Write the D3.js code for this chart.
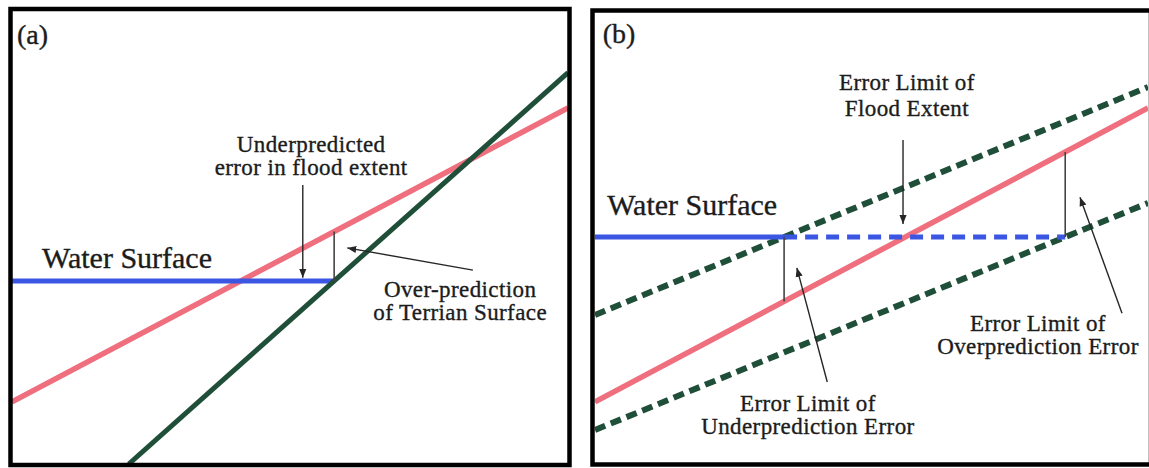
<!DOCTYPE html>
<html>
<head>
<meta charset="utf-8">
<script src="https://cdn.jsdelivr.net/npm/d3@7"></script>
<style>
  html, body { margin: 0; padding: 0; background: #fff; }
  svg { display: block; }
  text { font-family: "Liberation Serif", "Times New Roman", serif; fill: #1c1c1c; stroke: #1c1c1c; stroke-width: 0.35px; }
</style>
</head>
<body>
<svg id="fig" width="1149" height="468"></svg>
<script>
// Profile lines in normalised units (x: 0-100 across the panel, y: 0-100 bottom to top)
const terrainSurface = [[0, 13.7], [100, 78.6]];          // true terrain (both panels)
const demSurfaceA = [[21.0, 0], [100, 86.4]];             // over-predicted terrain, panel (a)
const errorLimitUpper = [[0, 32.9], [100, 83.2]];         // panel (b) upper error limit
const errorLimitLower = [[0, 7.5], [100, 57.6]];          // panel (b) lower error limit
const waterLevelA = 40.4;
const waterLevelB = 50.1;

const panelLabels = ["(a)", "(b)"];
const waterLabel = "Water Surface";
const annotationA = [
  ["Underpredicted", "error in flood extent"],
  ["Over-prediction", "of Terrian Surface"]
];
const annotationB = [
  ["Error Limit of", "Flood Extent"],
  ["Error Limit of", "Underprediction Error"],
  ["Error Limit of", "Overprediction Error"]
];

const colors = { terrain: "#ef6f7e", dem: "#1f4e39", water: "#3a56e2", ink: "#262626" };

const svg = d3.select("#fig");

// arrowhead marker
svg.append("defs").append("marker")
  .attr("id", "head").attr("viewBox", "0 0 10 10")
  .attr("refX", 10).attr("refY", 5)
  .attr("markerWidth", 9).attr("markerHeight", 9)
  .attr("markerUnits", "userSpaceOnUse")
  .attr("orient", "auto")
  .append("path").attr("d", "M0,1 L10,5 L0,9 Z").attr("fill", colors.ink);

function xAt(line, y) {
  const [[x0, y0], [x1, y1]] = line;
  return x0 + (y - y0) * (x1 - x0) / (y1 - y0);
}
function yAt(line, x) {
  const [[x0, y0], [x1, y1]] = line;
  return y0 + (x - x0) * (y1 - y0) / (x1 - x0);
}

function makePanel(id, range) {
  const x = d3.scaleLinear().domain([0, 100]).range(range.x);
  const y = d3.scaleLinear().domain([0, 100]).range(range.y);
  svg.select("defs").append("clipPath").attr("id", "clip-" + id)
    .append("rect")
    .attr("x", range.x[0]).attr("y", range.y[1])
    .attr("width", range.x[1] - range.x[0]).attr("height", range.y[0] - range.y[1]);
  const g = svg.append("g");
  const plot = g.append("g").attr("clip-path", `url(#clip-${id})`);
  const path = d3.line().x(d => x(d[0])).y(d => y(d[1]));
  return { x, y, g, plot, path };
}

function textBlock(g, lines, cx, firstBaseline, gap, size) {
  lines.forEach((t, i) => {
    g.append("text")
      .attr("x", cx).attr("y", firstBaseline + i * gap)
      .attr("text-anchor", "middle")
      .attr("font-size", size)
      .attr("letter-spacing", 0.4)
      .text(t);
  });
}

function arrow(g, x1, y1, x2, y2) {
  g.append("line")
    .attr("x1", x1).attr("y1", y1).attr("x2", x2).attr("y2", y2)
    .attr("stroke", colors.ink).attr("stroke-width", 1.4)
    .attr("marker-end", "url(#head)");
}

function tick(g, x1, y1, x2, y2) {
  g.append("line")
    .attr("x1", x1).attr("y1", y1).attr("x2", x2).attr("y2", y2)
    .attr("stroke", "#444").attr("stroke-width", 1.6);
}

const noteSize = 23;
const noteGap = 23;

/* ---------- Panel (a) ---------- */
{
  const p = makePanel("a", { x: [12, 568], y: [464, 11] });
  const { x, y, g, plot, path } = p;

  plot.append("path").attr("d", path(terrainSurface))
    .attr("stroke", colors.terrain).attr("stroke-width", 5.5).attr("fill", "none");

  const xEnd = xAt(demSurfaceA, waterLevelA);
  plot.append("path").attr("d", path([[0, waterLevelA], [xEnd, waterLevelA]]))
    .attr("stroke", colors.water).attr("stroke-width", 5).attr("fill", "none");

  plot.append("path").attr("d", path(demSurfaceA))
    .attr("stroke", colors.dem).attr("stroke-width", 5).attr("fill", "none");

  // vertical gap between water edge and true terrain
  tick(g, x(xEnd), y(waterLevelA), x(xEnd), y(yAt(terrainSurface, xEnd)));

  g.append("text").attr("x", x(0.9)).attr("y", y(92.7))
    .attr("font-size", 28).text(panelLabels[0]);
  g.append("text").attr("x", x(5.4)).attr("y", y(43.3))
    .attr("font-size", 30).text(waterLabel);

  textBlock(g, annotationA[0], x(53.8), y(68.9), noteGap, noteSize);
  arrow(g, x(52.3), y(61.6), x(52.3), y(waterLevelA + 0.7));

  textBlock(g, annotationA[1], x(80.6), y(36.8), noteGap, noteSize);
  arrow(g, x(82.9), y(42.8), x(60.3), y(47.7));

  g.append("rect").attr("x", 10.5).attr("y", 9).attr("width", 559).attr("height", 456)
    .attr("fill", "none").attr("stroke", "#000").attr("stroke-width", 4.5);
}

/* ---------- Panel (b) ---------- */
{
  const p = makePanel("b", { x: [595, 1148], y: [464, 11] });
  const { x, y, g, plot, path } = p;

  plot.append("path").attr("d", path(terrainSurface))
    .attr("stroke", colors.terrain).attr("stroke-width", 5.5).attr("fill", "none");

  [errorLimitUpper, errorLimitLower].forEach(l => {
    plot.append("path").attr("d", path(l))
      .attr("stroke", colors.dem).attr("stroke-width", 6).attr("fill", "none")
      .attr("stroke-dasharray", "11,6");
  });

  const xUp = xAt(errorLimitUpper, waterLevelB);
  const xLo = xAt(errorLimitLower, waterLevelB);
  plot.append("path").attr("d", path([[0, waterLevelB], [xUp, waterLevelB]]))
    .attr("stroke", colors.water).attr("stroke-width", 5).attr("fill", "none");
  plot.append("path").attr("d", path([[xUp, waterLevelB], [xLo, waterLevelB]]))
    .attr("stroke", colors.water).attr("stroke-width", 5).attr("fill", "none")
    .attr("stroke-dasharray", "13,8");

  tick(g, x(xUp), y(waterLevelB), x(xUp), y(yAt(terrainSurface, xUp)));
  tick(g, x(xLo), y(waterLevelB), x(xLo), y(yAt(terrainSurface, xLo)));

  g.append("text").attr("x", x(1.4)).attr("y", y(92.9))
    .attr("font-size", 28).text(panelLabels[1]);
  g.append("text").attr("x", x(2.2)).attr("y", y(55))
    .attr("font-size", 30).text(waterLabel);

  textBlock(g, annotationB[0], x(56.4), y(82.6), 26, noteSize);
  arrow(g, x(55.7), y(71.5), x(55.7), y(waterLevelB + 2.9));

  textBlock(g, annotationB[1], x(38.5), y(11.6), noteGap, noteSize);
  arrow(g, x(42.0), y(18.1), x(36.5), y(43.3));

  textBlock(g, annotationB[2], x(80.1), y(29.3), noteGap, noteSize);
  arrow(g, x(95.3), y(33.3), x(87.7), y(58.9));

  g.append("rect").attr("x", 592.5).attr("y", 10.5).attr("width", 558.5).attr("height", 454)
    .attr("fill", "none").attr("stroke", "#000").attr("stroke-width", 4.5);
}
</script>
</body>
</html>
